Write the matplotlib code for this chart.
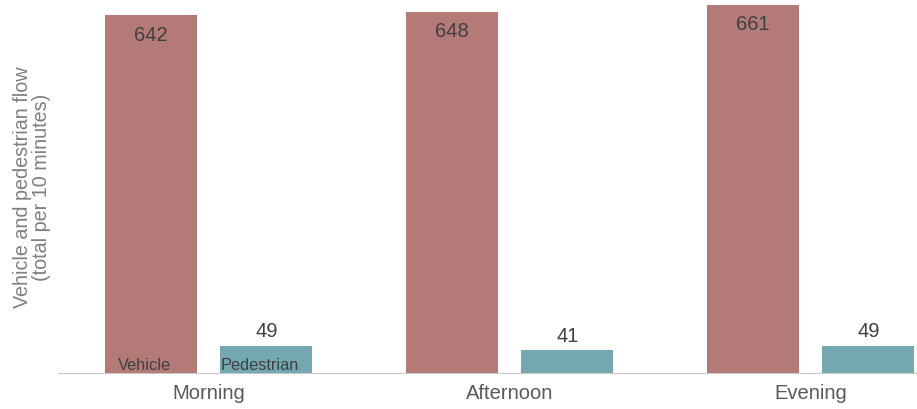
import matplotlib.pyplot as plt
import numpy as np

plt.rcParams["font.family"] = ["Liberation Sans", "DejaVu Sans"]

periods = ["Morning", "Afternoon", "Evening"]
vehicle = [642, 648, 661]
pedestrian = [49, 41, 49]

VEHICLE_COLOR = "#b47a77"
PEDESTRIAN_COLOR = "#74a8b0"


def main() -> None:
    fig = plt.figure(figsize=(9.17, 4.10), dpi=100)
    ax = fig.add_axes([58 / 917, 36 / 410, 903 / 917, 374 / 410])

    x = np.arange(len(periods))
    width = 0.306
    offset = 0.192
    veh_bars = ax.bar(x - offset, vehicle, width, color=VEHICLE_COLOR)
    ped_bars = ax.bar(x + offset, pedestrian, width, color=PEDESTRIAN_COLOR)

    for bar, val in zip(veh_bars, vehicle):
        ax.annotate(str(val), (bar.get_x() + bar.get_width() / 2, val),
                    xytext=(0, -19), textcoords="offset pixels",
                    ha="center", va="center", fontsize=14.5, color="#404040")
    for bar, val in zip(ped_bars, pedestrian):
        ax.annotate(str(val), (bar.get_x() + bar.get_width() / 2, val),
                    xytext=(0, 15), textcoords="offset pixels",
                    ha="center", va="center", fontsize=14.5, color="#404040")

    # series names written inside the first pair of bars
    for bar, name in ((veh_bars[0], "Vehicle"), (ped_bars[0], "Pedestrian")):
        ax.annotate(name, (bar.get_x() + bar.get_width() / 2, 0),
                    xytext=(-6, 1), textcoords="offset pixels",
                    ha="center", va="bottom", fontsize=11.8, color="#404040")

    ax.set_xlim(-0.5, 2.5)
    ax.set_ylim(0, 671)
    ax.set_xticks(x)
    ax.set_xticklabels(periods, fontsize=14.5, color="#595959")
    ax.tick_params(axis="x", length=0, pad=7)
    ax.set_yticks([])
    for side in ("top", "right", "left"):
        ax.spines[side].set_visible(False)
    ax.spines["bottom"].set_color("#c8c8c8")
    ax.spines["bottom"].set_linestyle((0, (1, 1)))
    ax.spines["bottom"].set_linewidth(0.8)

    ax.set_ylabel("Vehicle and pedestrian flow\n(total per 10 minutes)",
                  fontsize=14.2, color="#7f7f7f", labelpad=5, linespacing=1.0)

    fig.savefig("out.png", dpi=100)
    plt.close(fig)


if __name__ == "__main__":
    main()
